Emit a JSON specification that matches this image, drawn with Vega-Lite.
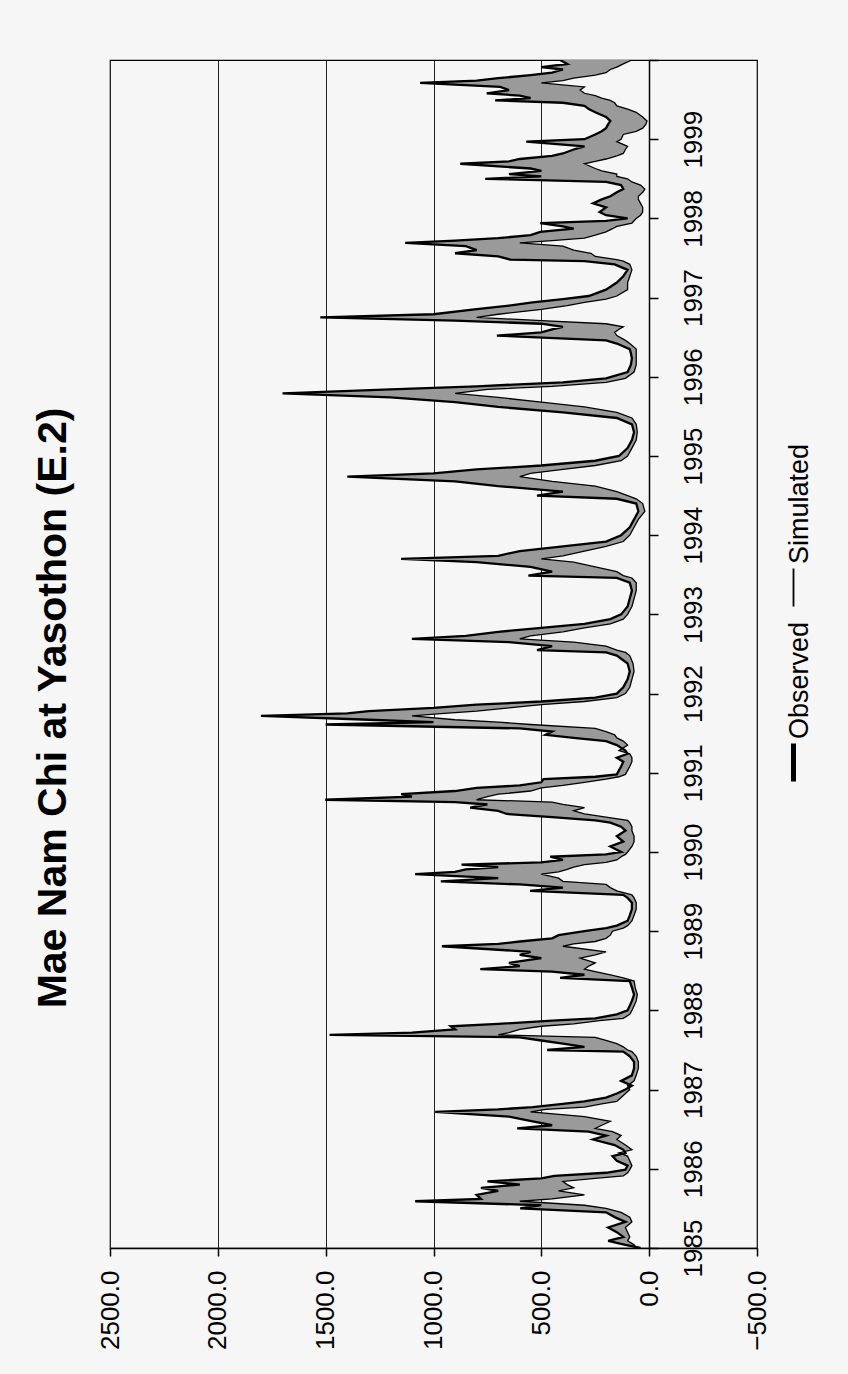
{
  "$schema": "https://vega.github.io/schema/vega-lite/v6.json",
  "width": 647,
  "height": 1188,
  "autosize": "none",
  "padding": {"left": 110, "top": 60, "right": 91, "bottom": 126},
  "background": "#f6f6f6",
  "title": {
    "text": "Mae Nam Chi at Yasothon (E.2)",
    "orient": "left",
    "anchor": "middle",
    "angle": 270,
    "fontSize": 41,
    "fontWeight": "bold",
    "font": "Liberation Sans",
    "color": "#000",
    "offset": 22,
    "dx": -54
  },
  "data": {
    "values": [
      {"t":1985.00,"Observed":40,"Simulated":60},{"t":1985.04,"Observed":110,"Simulated":70},{"t":1985.09,"Observed":190,"Simulated":100},{"t":1985.14,"Observed":120,"Simulated":90},{"t":1985.20,"Observed":150,"Simulated":100},{"t":1985.26,"Observed":190,"Simulated":110},{"t":1985.33,"Observed":110,"Simulated":80},{"t":1985.39,"Observed":160,"Simulated":90},{"t":1985.45,"Observed":200,"Simulated":130},{"t":1985.50,"Observed":598,"Simulated":200},{"t":1985.54,"Observed":500,"Simulated":300},{"t":1985.59,"Observed":1085,"Simulated":600},{"t":1985.62,"Observed":780,"Simulated":450},{"t":1985.67,"Observed":800,"Simulated":300},{"t":1985.72,"Observed":700,"Simulated":420},{"t":1985.76,"Observed":780,"Simulated":350},{"t":1985.80,"Observed":600,"Simulated":380},{"t":1985.84,"Observed":750,"Simulated":400},{"t":1985.88,"Observed":500,"Simulated":250},{"t":1985.91,"Observed":440,"Simulated":120},{"t":1985.95,"Observed":200,"Simulated":100},{"t":1985.99,"Observed":110,"Simulated":90},
      {"t":1986.04,"Observed":100,"Simulated":80},{"t":1986.10,"Observed":150,"Simulated":90},{"t":1986.16,"Observed":170,"Simulated":100},{"t":1986.20,"Observed":110,"Simulated":140},{"t":1986.24,"Observed":120,"Simulated":80},{"t":1986.30,"Observed":160,"Simulated":110},{"t":1986.37,"Observed":260,"Simulated":150},{"t":1986.42,"Observed":200,"Simulated":130},{"t":1986.47,"Observed":280,"Simulated":170},{"t":1986.51,"Observed":612,"Simulated":250},{"t":1986.55,"Observed":450,"Simulated":220},{"t":1986.60,"Observed":540,"Simulated":180},{"t":1986.66,"Observed":650,"Simulated":300},{"t":1986.72,"Observed":992,"Simulated":550},{"t":1986.75,"Observed":700,"Simulated":480},{"t":1986.78,"Observed":540,"Simulated":300},{"t":1986.82,"Observed":400,"Simulated":220},{"t":1986.85,"Observed":300,"Simulated":150},{"t":1986.90,"Observed":200,"Simulated":130},{"t":1986.95,"Observed":150,"Simulated":110},{"t":1987.00,"Observed":110,"Simulated":90},
      {"t":1987.05,"Observed":80,"Simulated":100},{"t":1987.11,"Observed":130,"Simulated":70},{"t":1987.18,"Observed":80,"Simulated":60},{"t":1987.27,"Observed":70,"Simulated":50},{"t":1987.35,"Observed":70,"Simulated":50},{"t":1987.42,"Observed":90,"Simulated":60},{"t":1987.48,"Observed":120,"Simulated":80},{"t":1987.50,"Observed":473,"Simulated":100},{"t":1987.54,"Observed":300,"Simulated":120},{"t":1987.58,"Observed":400,"Simulated":150},{"t":1987.62,"Observed":500,"Simulated":200},{"t":1987.66,"Observed":600,"Simulated":250},{"t":1987.69,"Observed":1482,"Simulated":700},{"t":1987.72,"Observed":1100,"Simulated":650},{"t":1987.76,"Observed":900,"Simulated":600},{"t":1987.80,"Observed":920,"Simulated":500},{"t":1987.83,"Observed":700,"Simulated":350},{"t":1987.87,"Observed":450,"Simulated":230},{"t":1987.90,"Observed":250,"Simulated":120},{"t":1987.95,"Observed":150,"Simulated":90},{"t":1988.00,"Observed":100,"Simulated":80},
      {"t":1988.06,"Observed":90,"Simulated":70},{"t":1988.12,"Observed":80,"Simulated":60},{"t":1988.20,"Observed":70,"Simulated":55},{"t":1988.29,"Observed":80,"Simulated":65},{"t":1988.37,"Observed":90,"Simulated":70},{"t":1988.41,"Observed":413,"Simulated":120},{"t":1988.45,"Observed":300,"Simulated":180},{"t":1988.49,"Observed":450,"Simulated":250},{"t":1988.52,"Observed":783,"Simulated":300},{"t":1988.56,"Observed":600,"Simulated":280},{"t":1988.60,"Observed":650,"Simulated":250},{"t":1988.66,"Observed":500,"Simulated":320},{"t":1988.70,"Observed":600,"Simulated":250},{"t":1988.74,"Observed":550,"Simulated":200},{"t":1988.81,"Observed":961,"Simulated":400},{"t":1988.84,"Observed":700,"Simulated":350},{"t":1988.87,"Observed":600,"Simulated":250},{"t":1988.91,"Observed":450,"Simulated":200},{"t":1988.95,"Observed":420,"Simulated":180},{"t":1989.00,"Observed":300,"Simulated":170},
      {"t":1989.04,"Observed":200,"Simulated":120},{"t":1989.07,"Observed":150,"Simulated":100},{"t":1989.13,"Observed":100,"Simulated":80},{"t":1989.20,"Observed":90,"Simulated":70},{"t":1989.28,"Observed":80,"Simulated":60},{"t":1989.36,"Observed":80,"Simulated":60},{"t":1989.42,"Observed":100,"Simulated":70},{"t":1989.46,"Observed":120,"Simulated":80},{"t":1989.51,"Observed":552,"Simulated":150},{"t":1989.55,"Observed":400,"Simulated":180},{"t":1989.59,"Observed":600,"Simulated":200},{"t":1989.63,"Observed":966,"Simulated":400},{"t":1989.67,"Observed":700,"Simulated":420},{"t":1989.72,"Observed":1085,"Simulated":500},{"t":1989.75,"Observed":900,"Simulated":420},{"t":1989.78,"Observed":850,"Simulated":380},{"t":1989.81,"Observed":700,"Simulated":350},{"t":1989.84,"Observed":870,"Simulated":300},{"t":1989.87,"Observed":500,"Simulated":200},{"t":1989.90,"Observed":400,"Simulated":150},{"t":1989.94,"Observed":459,"Simulated":130},{"t":1989.97,"Observed":200,"Simulated":110},{"t":1990.00,"Observed":130,"Simulated":100},
      {"t":1990.07,"Observed":180,"Simulated":80},{"t":1990.13,"Observed":120,"Simulated":70},{"t":1990.20,"Observed":150,"Simulated":70},{"t":1990.27,"Observed":110,"Simulated":80},{"t":1990.32,"Observed":130,"Simulated":80},{"t":1990.37,"Observed":180,"Simulated":90},{"t":1990.40,"Observed":250,"Simulated":100},{"t":1990.44,"Observed":450,"Simulated":200},{"t":1990.48,"Observed":660,"Simulated":300},{"t":1990.52,"Observed":700,"Simulated":350},{"t":1990.56,"Observed":830,"Simulated":300},{"t":1990.60,"Observed":750,"Simulated":400},{"t":1990.63,"Observed":900,"Simulated":450},{"t":1990.66,"Observed":1502,"Simulated":800},{"t":1990.70,"Observed":1100,"Simulated":750},{"t":1990.73,"Observed":1150,"Simulated":700},{"t":1990.77,"Observed":900,"Simulated":550},{"t":1990.81,"Observed":800,"Simulated":500},{"t":1990.84,"Observed":600,"Simulated":400},{"t":1990.88,"Observed":500,"Simulated":300},{"t":1990.92,"Observed":490,"Simulated":200},{"t":1990.95,"Observed":250,"Simulated":140},{"t":1990.98,"Observed":150,"Simulated":110},
      {"t":1991.03,"Observed":140,"Simulated":100},{"t":1991.08,"Observed":130,"Simulated":90},{"t":1991.14,"Observed":120,"Simulated":80},{"t":1991.19,"Observed":150,"Simulated":80},{"t":1991.24,"Observed":100,"Simulated":90},{"t":1991.28,"Observed":110,"Simulated":140},{"t":1991.35,"Observed":150,"Simulated":100},{"t":1991.40,"Observed":200,"Simulated":120},{"t":1991.44,"Observed":350,"Simulated":150},{"t":1991.48,"Observed":480,"Simulated":160},{"t":1991.52,"Observed":450,"Simulated":200},{"t":1991.56,"Observed":600,"Simulated":250},{"t":1991.61,"Observed":1500,"Simulated":550},{"t":1991.64,"Observed":1000,"Simulated":700},{"t":1991.67,"Observed":1300,"Simulated":900},{"t":1991.72,"Observed":1800,"Simulated":1100},{"t":1991.75,"Observed":1400,"Simulated":950},{"t":1991.78,"Observed":1300,"Simulated":800},{"t":1991.82,"Observed":1000,"Simulated":650},{"t":1991.86,"Observed":800,"Simulated":500},{"t":1991.90,"Observed":500,"Simulated":300},{"t":1991.95,"Observed":250,"Simulated":150},{"t":1992.00,"Observed":150,"Simulated":110},
      {"t":1992.08,"Observed":120,"Simulated":90},{"t":1992.18,"Observed":100,"Simulated":80},{"t":1992.28,"Observed":90,"Simulated":70},{"t":1992.38,"Observed":100,"Simulated":75},{"t":1992.48,"Observed":150,"Simulated":90},{"t":1992.52,"Observed":200,"Simulated":110},{"t":1992.55,"Observed":520,"Simulated":150},{"t":1992.60,"Observed":450,"Simulated":200},{"t":1992.65,"Observed":650,"Simulated":350},{"t":1992.69,"Observed":1100,"Simulated":600},{"t":1992.73,"Observed":850,"Simulated":550},{"t":1992.78,"Observed":700,"Simulated":400},{"t":1992.83,"Observed":500,"Simulated":300},{"t":1992.88,"Observed":300,"Simulated":180},{"t":1992.94,"Observed":180,"Simulated":120},{"t":1993.00,"Observed":130,"Simulated":100},
      {"t":1993.10,"Observed":100,"Simulated":80},{"t":1993.20,"Observed":90,"Simulated":70},{"t":1993.30,"Observed":80,"Simulated":60},{"t":1993.40,"Observed":90,"Simulated":60},{"t":1993.46,"Observed":150,"Simulated":80},{"t":1993.49,"Observed":560,"Simulated":120},{"t":1993.54,"Observed":450,"Simulated":150},{"t":1993.60,"Observed":550,"Simulated":250},{"t":1993.66,"Observed":800,"Simulated":350},{"t":1993.70,"Observed":1150,"Simulated":500},{"t":1993.74,"Observed":700,"Simulated":400},{"t":1993.80,"Observed":600,"Simulated":300},{"t":1993.86,"Observed":400,"Simulated":200},{"t":1993.92,"Observed":200,"Simulated":120},{"t":1994.00,"Observed":130,"Simulated":90},
      {"t":1994.10,"Observed":90,"Simulated":70},{"t":1994.20,"Observed":70,"Simulated":50},{"t":1994.30,"Observed":50,"Simulated":20},{"t":1994.40,"Observed":60,"Simulated":30},{"t":1994.46,"Observed":150,"Simulated":60},{"t":1994.50,"Observed":520,"Simulated":100},{"t":1994.55,"Observed":400,"Simulated":150},{"t":1994.62,"Observed":700,"Simulated":250},{"t":1994.68,"Observed":900,"Simulated":450},{"t":1994.74,"Observed":1400,"Simulated":600},{"t":1994.78,"Observed":1000,"Simulated":550},{"t":1994.83,"Observed":800,"Simulated":400},{"t":1994.88,"Observed":500,"Simulated":250},{"t":1994.94,"Observed":250,"Simulated":130},{"t":1995.00,"Observed":140,"Simulated":100},
      {"t":1995.10,"Observed":100,"Simulated":80},{"t":1995.20,"Observed":80,"Simulated":60},{"t":1995.30,"Observed":70,"Simulated":55},{"t":1995.40,"Observed":80,"Simulated":60},{"t":1995.48,"Observed":150,"Simulated":80},{"t":1995.55,"Observed":400,"Simulated":150},{"t":1995.62,"Observed":700,"Simulated":300},{"t":1995.68,"Observed":900,"Simulated":500},{"t":1995.74,"Observed":1200,"Simulated":700},{"t":1995.79,"Observed":1700,"Simulated":900},{"t":1995.84,"Observed":1200,"Simulated":750},{"t":1995.88,"Observed":800,"Simulated":450},{"t":1995.93,"Observed":400,"Simulated":200},{"t":1995.98,"Observed":200,"Simulated":110},
      {"t":1996.06,"Observed":100,"Simulated":70},{"t":1996.15,"Observed":85,"Simulated":60},{"t":1996.23,"Observed":80,"Simulated":60},{"t":1996.30,"Observed":85,"Simulated":60},{"t":1996.35,"Observed":90,"Simulated":60},{"t":1996.42,"Observed":150,"Simulated":90},{"t":1996.46,"Observed":200,"Simulated":110},{"t":1996.52,"Observed":706,"Simulated":150},{"t":1996.56,"Observed":500,"Simulated":160},{"t":1996.60,"Observed":450,"Simulated":140},{"t":1996.63,"Observed":400,"Simulated":120},{"t":1996.67,"Observed":500,"Simulated":200},{"t":1996.71,"Observed":900,"Simulated":500},{"t":1996.75,"Observed":1525,"Simulated":800},{"t":1996.79,"Observed":1000,"Simulated":700},{"t":1996.85,"Observed":810,"Simulated":500},{"t":1996.90,"Observed":650,"Simulated":380},{"t":1996.94,"Observed":540,"Simulated":300},{"t":1996.98,"Observed":400,"Simulated":200},{"t":1997.02,"Observed":280,"Simulated":150},
      {"t":1997.10,"Observed":200,"Simulated":100},{"t":1997.19,"Observed":150,"Simulated":100},{"t":1997.27,"Observed":120,"Simulated":90},{"t":1997.35,"Observed":100,"Simulated":80},{"t":1997.42,"Observed":160,"Simulated":90},{"t":1997.46,"Observed":300,"Simulated":120},{"t":1997.48,"Observed":644,"Simulated":150},{"t":1997.52,"Observed":700,"Simulated":250},{"t":1997.56,"Observed":900,"Simulated":270},{"t":1997.60,"Observed":800,"Simulated":350},{"t":1997.65,"Observed":850,"Simulated":400},{"t":1997.69,"Observed":1131,"Simulated":600},{"t":1997.72,"Observed":900,"Simulated":450},{"t":1997.75,"Observed":700,"Simulated":300},{"t":1997.79,"Observed":550,"Simulated":250},{"t":1997.83,"Observed":505,"Simulated":200},{"t":1997.87,"Observed":350,"Simulated":170},{"t":1997.90,"Observed":400,"Simulated":150},{"t":1997.94,"Observed":505,"Simulated":80},{"t":1997.97,"Observed":200,"Simulated":70},{"t":1998.00,"Observed":100,"Simulated":60},
      {"t":1998.04,"Observed":200,"Simulated":40},{"t":1998.08,"Observed":230,"Simulated":30},{"t":1998.14,"Observed":200,"Simulated":30},{"t":1998.19,"Observed":260,"Simulated":40},{"t":1998.24,"Observed":220,"Simulated":50},{"t":1998.28,"Observed":180,"Simulated":50},{"t":1998.33,"Observed":150,"Simulated":30},{"t":1998.37,"Observed":120,"Simulated":20},{"t":1998.42,"Observed":130,"Simulated":40},{"t":1998.46,"Observed":200,"Simulated":80},{"t":1998.50,"Observed":760,"Simulated":100},{"t":1998.53,"Observed":500,"Simulated":150},{"t":1998.56,"Observed":650,"Simulated":150},{"t":1998.60,"Observed":500,"Simulated":220},{"t":1998.63,"Observed":550,"Simulated":250},{"t":1998.69,"Observed":876,"Simulated":300},{"t":1998.72,"Observed":650,"Simulated":250},{"t":1998.75,"Observed":600,"Simulated":200},{"t":1998.79,"Observed":450,"Simulated":150},{"t":1998.82,"Observed":400,"Simulated":120},{"t":1998.87,"Observed":350,"Simulated":110},{"t":1998.91,"Observed":300,"Simulated":100},{"t":1998.97,"Observed":570,"Simulated":150},{"t":1999.00,"Observed":300,"Simulated":130},
      {"t":1999.06,"Observed":250,"Simulated":120},{"t":1999.10,"Observed":220,"Simulated":60},{"t":1999.14,"Observed":200,"Simulated":30},{"t":1999.19,"Observed":190,"Simulated":15},{"t":1999.23,"Observed":180,"Simulated":10},{"t":1999.28,"Observed":200,"Simulated":30},{"t":1999.34,"Observed":250,"Simulated":60},{"t":1999.38,"Observed":280,"Simulated":100},{"t":1999.42,"Observed":300,"Simulated":150},{"t":1999.46,"Observed":400,"Simulated":160},{"t":1999.49,"Observed":714,"Simulated":180},{"t":1999.52,"Observed":550,"Simulated":220},{"t":1999.55,"Observed":600,"Simulated":250},{"t":1999.58,"Observed":753,"Simulated":300},{"t":1999.62,"Observed":650,"Simulated":320},{"t":1999.66,"Observed":690,"Simulated":300},{"t":1999.71,"Observed":1062,"Simulated":500},{"t":1999.74,"Observed":800,"Simulated":400},{"t":1999.77,"Observed":700,"Simulated":350},{"t":1999.81,"Observed":550,"Simulated":250},{"t":1999.84,"Observed":450,"Simulated":200},{"t":1999.88,"Observed":400,"Simulated":180},{"t":1999.91,"Observed":500,"Simulated":150},{"t":1999.95,"Observed":380,"Simulated":120},{"t":2000.00,"Observed":413,"Simulated":80}
    ]
  },
  "layer": [
    {
      "mark": {"type": "area", "orient": "horizontal", "color": "#9a9a9a", "clip": true},
      "encoding": {
        "y": {
          "field": "t", "type": "quantitative",
          "scale": {"domain": [1985, 2000], "nice": false, "zero": false},
          "axis": {
            "orient": "right", "offset": -108,
            "values": [1985,1986,1987,1988,1989,1990,1991,1992,1993,1994,1995,1996,1997,1998,1999,2000],
            "format": "d",
            "labelExpr": "datum.value == 2000 ? '' : datum.label",
            "labelAngle": 270, "labelAlign": "center", "labelBaseline": "top",
            "labelFontSize": 26, "labelPadding": 22, "tickSize": 9,
            "grid": false, "title": null, "domainWidth": 1.5, "tickWidth": 1.5
          }
        },
        "x": {
          "field": "Observed", "type": "quantitative",
          "scale": {"domain": [-500, 2500], "reverse": true, "nice": false, "zero": false},
          "axis": {
            "values": [-500, 0, 500, 1000, 1500, 2000, 2500],
            "format": ".1f",
            "labelAngle": 270, "labelAlign": "right", "labelBaseline": "middle",
            "labelFontSize": 26, "labelPadding": 14, "tickSize": 8,
            "grid": true, "gridColor": "#222", "gridWidth": 1,
            "title": null, "domainWidth": 1.5, "tickWidth": 1.5
          }
        },
        "x2": {"field": "Simulated"}
      }
    },
    {
      "transform": [{"fold": ["Observed", "Simulated"], "as": ["series", "q"]}],
      "mark": {"type": "line", "orient": "horizontal", "clip": true},
      "encoding": {
        "y": {"field": "t", "type": "quantitative"},
        "x": {"field": "q", "type": "quantitative"},
        "order": {"field": "t", "type": "quantitative"},
        "strokeWidth": {
          "field": "series", "type": "nominal",
          "scale": {"domain": ["Observed", "Simulated"], "range": [2.3, 1.3], "padding": 0},
          "legend": null
        },
        "color": {
          "field": "series", "type": "nominal",
          "scale": {"domain": ["Simulated", "Observed"], "range": ["#000000", "#000000"]},
          "legend": {
            "orient": "none", "legendX": 670, "legendY": 514,
            "direction": "vertical", "title": null,
            "symbolType": "M0,-1L0,1", "symbolSize": 1444,
            "labelFont": "Liberation Sans", "labelFontSize": 27, "labelColor": "#000", "labelLimit": 400,
            "rowPadding": 10,
            "encoding": {
              "labels": {
                "angle": {"value": 270},
                "align": {"value": "left"},
                "baseline": {"value": "middle"},
                "x": {"value": 20},
                "y": {"value": -10}
              },
              "symbols": {
                "strokeWidth": {"value": {"expr": "datum.value === 'Observed' ? 5 : 1.8"}}
              }
            }
          }
        }
      }
    }
  ],
  "config": {
    "font": "Liberation Sans",
    "view": {"stroke": "#000", "strokeWidth": 1.2},
    "axis": {"labelColor": "#000", "labelFont": "Liberation Sans", "domainColor": "#000", "tickColor": "#000"}
  }
}
